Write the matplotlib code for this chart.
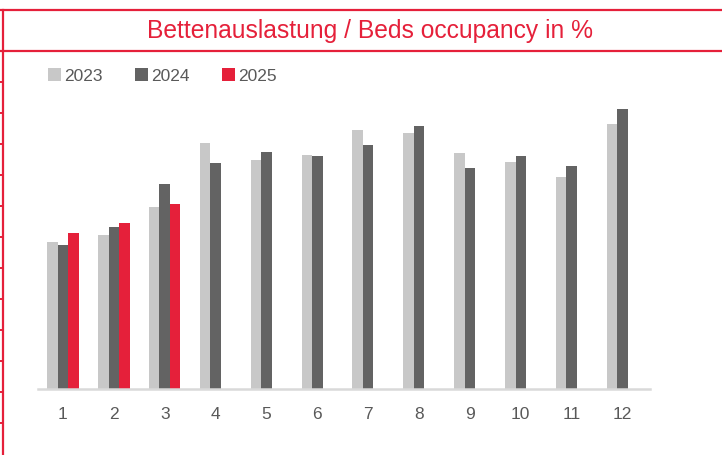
import numpy as np
import matplotlib
matplotlib.use("Agg")
import matplotlib.pyplot as plt
from matplotlib.lines import Line2D

plt.rcParams['font.family'] = ['Liberation Sans', 'DejaVu Sans']

months = ["1", "2", "3", "4", "5", "6", "7", "8", "9", "10", "11", "12"]
occ_2023 = [39.5, 41.3, 48.7, 66.0, 61.4, 62.8, 69.4, 68.6, 63.4, 60.9, 56.8, 71.1]
occ_2024 = [38.6, 43.4, 55.0, 60.6, 63.6, 62.5, 65.5, 70.6, 59.2, 62.5, 59.8, 75.1]
occ_2025 = [41.8, 44.6, 49.6]

RED = "#e5203a"
GREY_TXT = "#595959"

fig = plt.figure(figsize=(7.22, 4.56), dpi=100)
ax = fig.add_axes([38 / 722, 1 - 390 / 456, 612 / 722, 298.4 / 456])

x = np.arange(len(months))
w = 0.206
b1 = ax.bar(x - w, occ_2023, w, color="#c8c8c8", label="2023")
b2 = ax.bar(x, occ_2024, w, color="#636363", label="2024")
b3 = ax.bar(x[:len(occ_2025)] + w, occ_2025, w, color=RED, label="2025")

ax.set_xlim(-0.49, 11.54)
ax.set_ylim(0, 80)
ax.set_xticks(x)
ax.set_xticklabels(months, fontsize=12.5, color=GREY_TXT)
ax.tick_params(axis="x", length=0, pad=12)
ax.set_yticks([])
for s in ["top", "right", "left"]:
    ax.spines[s].set_visible(False)
ax.spines["bottom"].set_color("#d9d9d9")
ax.spines["bottom"].set_linewidth(1.8)

leg = fig.legend(handles=[b1, b2, b3], loc="upper left", bbox_to_anchor=(0.066, 0.849),
                 ncol=3, frameon=False, fontsize=12.5, handlelength=0.75, handleheight=0.75,
                 handletextpad=0.2, columnspacing=1.85, borderaxespad=0, borderpad=0)
for t in leg.get_texts():
    t.set_color(GREY_TXT)

# title box and frame lines
def fy(py):
    return 1 - py / 456

fig.add_artist(Line2D([0, 1], [fy(10.5), fy(10.5)], color=RED, lw=1.6))
fig.add_artist(Line2D([0, 1], [fy(51.5), fy(51.5)], color=RED, lw=1.6))
fig.add_artist(Line2D([3 / 722, 3 / 722], [fy(10.5), 0], color=RED, lw=1.6))
for py in [51.5] + [83 + 31 * i for i in range(12)]:
    fig.add_artist(Line2D([0, 3 / 722], [fy(py), fy(py)], color=RED, lw=1.4))

fig.text(370 / 722, fy(31), "Bettenauslastung / Beds occupancy in %", color=RED,
         fontsize=17.7, ha="center", va="center")

fig.savefig("out.png", dpi=100)
